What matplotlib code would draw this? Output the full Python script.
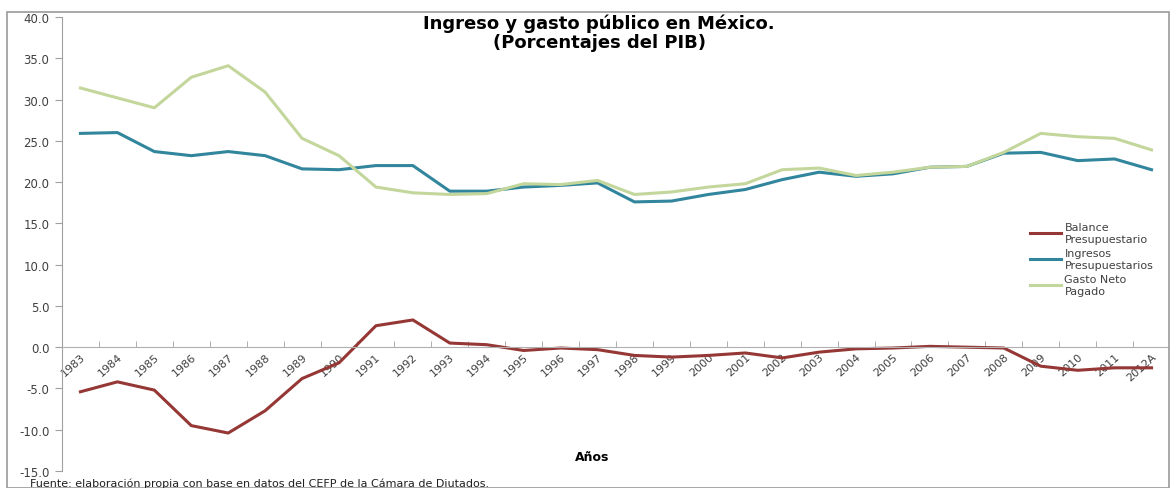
import matplotlib.pyplot as plt
from matplotlib.patches import Rectangle

years = ['1983', '1984', '1985', '1986', '1987', '1988', '1989', '1990', '1991', '1992',
         '1993', '1994', '1995', '1996', '1997', '1998', '1999', '2000', '2001', '2002',
         '2003', '2004', '2005', '2006', '2007', '2008', '2009', '2010', '2011', '2012A']
balance = [-5.4, -4.2, -5.2, -9.5, -10.4, -7.7, -3.8, -1.9, 2.6, 3.3,
           0.5, 0.3, -0.4, -0.1, -0.3, -1.0, -1.2, -1.0, -0.7, -1.3,
           -0.6, -0.2, -0.1, 0.1, 0.0, -0.1, -2.3, -2.8, -2.5, -2.5]
ingresos = [25.9, 26.0, 23.7, 23.2, 23.7, 23.2, 21.6, 21.5, 22.0, 22.0,
            18.9, 18.9, 19.4, 19.6, 19.9, 17.6, 17.7, 18.5, 19.1, 20.3,
            21.2, 20.7, 21.0, 21.8, 21.9, 23.5, 23.6, 22.6, 22.8, 21.5]
gasto = [31.4, 30.2, 29.0, 32.7, 34.1, 30.9, 25.3, 23.2, 19.4, 18.7,
         18.5, 18.6, 19.8, 19.7, 20.2, 18.5, 18.8, 19.4, 19.8, 21.5,
         21.7, 20.8, 21.2, 21.8, 21.9, 23.6, 25.9, 25.5, 25.3, 23.9]

plt.rcParams['font.family'] = ['DejaVu Sans']

fig = plt.figure(figsize=(11.7, 4.89), dpi=100)
ax = fig.add_axes([62/1170, 1 - 472/489, 1 - 62/1170, 454/489])

x = list(range(len(years)))
ax.plot(x, balance, color='#953735', lw=2.2, label='Balance\nPresupuestario')
ax.plot(x, ingresos, color='#31859C', lw=2.2, label='Ingresos\nPresupuestarios')
ax.plot(x, gasto, color='#C3D69B', lw=2.2, label='Gasto Neto\nPagado')

ax.set_xlim(-0.5, len(years) - 0.5)
ax.set_ylim(-15, 40)
ax.set_yticks(range(-15, 41, 5))
ax.set_yticklabels(['%.1f' % v for v in range(-15, 41, 5)], fontsize=8.5, color='#404040')
ax.tick_params(axis='y', direction='out', length=5, color='#a0a0a0', pad=4)

# eje x cruzando en cero
ax.spines['bottom'].set_position(('data', 0))
ax.spines['bottom'].set_color('#b0b0b0')
ax.spines['left'].set_color('#a0a0a0')
ax.spines['top'].set_visible(False)
ax.spines['right'].set_visible(False)

ax.set_xticks(x)
ax.set_xticklabels(years, rotation=42, ha='right', rotation_mode='anchor', fontsize=8, color='#404040')
ax.tick_params(axis='x', which='major', length=0, pad=3)
ax.set_xticks([i + 0.5 for i in x[:-1]], minor=True)
ax.tick_params(axis='x', which='minor', direction='in', length=4, color='#a0a0a0')

fig.text(0.512, 1 - 24/489, 'Ingreso y gasto público en México.', ha='center', va='center',
         fontsize=13, fontweight='bold')
fig.text(0.512, 1 - 43/489, '(Porcentajes del PIB)', ha='center', va='center',
         fontsize=13, fontweight='bold')
fig.text(592/1170, 1 - 458/489, 'Años', ha='center', va='center', fontsize=9, fontweight='bold')
fig.text(30/1170, 1 - 484/489, 'Fuente: elaboración propia con base en datos del CEFP de la Cámara de Diutados.',
         ha='left', va='center', fontsize=8, color='#202020')

leg = ax.legend(loc='upper left', frameon=False, fontsize=8, handlelength=2.8,
                labelspacing=0.4, handletextpad=0.3,
                bbox_to_anchor=(1020/1170, 1 - 213/489), bbox_transform=fig.transFigure)
for t in leg.get_texts():
    t.set_color('#404040')

fig.patches.append(Rectangle((7/1170, 0), 1 - 7/1170 - 0.001, 1 - 13/489, transform=fig.transFigure,
                             fill=False, edgecolor='#9a9a9a', lw=1.2))

fig.savefig('out.png', dpi=100)
